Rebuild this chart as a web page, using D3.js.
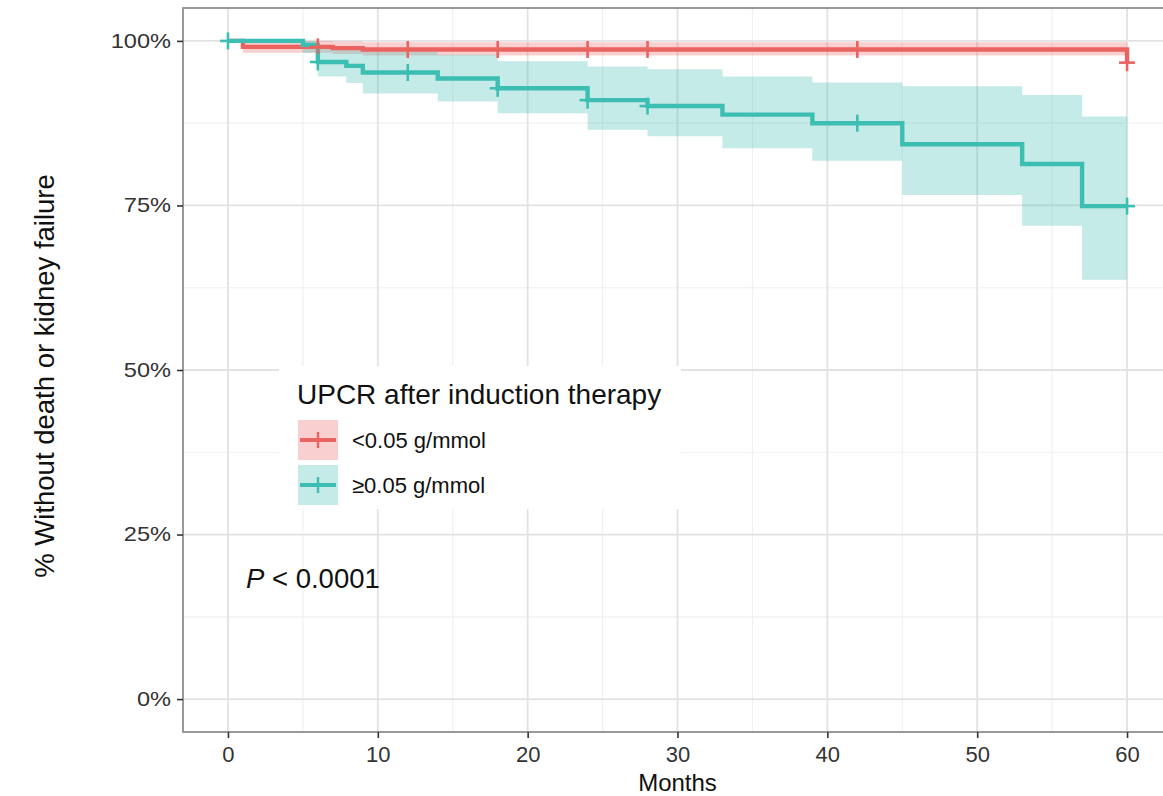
<!DOCTYPE html>
<html>
<head>
<meta charset="utf-8">
<script src="https://cdn.jsdelivr.net/npm/d3@7"></script>
<style>
  html, body { margin: 0; padding: 0; background: #fff; }
  svg { display: block; font-family: "Liberation Sans", Arial, sans-serif; }
</style>
</head>
<body>
<svg id="chart" width="1163" height="796"></svg>
<script>
// Kaplan–Meier estimates by UPCR group (time in months, survival as proportion)
const lowTimes   = [0, 1, 7, 9, 60];
const lowSurv    = [1.000, 0.991, 0.989, 0.987, 0.967];
const lowLower   = [1.000, 0.982, 0.980, 0.978, 0.967];
const lowUpper   = [1.000, 1.000, 0.999, 0.998, 0.967];
const lowCensor  = [6, 12, 18, 24, 28, 42, 60];

const highTimes  = [0, 5, 6, 7.9, 9, 14, 18, 24, 28, 33, 39, 45, 53, 57, 60];
const highSurv   = [1.000, 0.994, 0.968, 0.962, 0.952, 0.943, 0.928, 0.910, 0.901, 0.888, 0.875, 0.843, 0.813, 0.749, 0.749];
const highLower  = [1.000, 0.982, 0.946, 0.936, 0.920, 0.908, 0.890, 0.865, 0.855, 0.837, 0.818, 0.766, 0.719, 0.637, 0.637];
const highUpper  = [1.000, 1.000, 0.990, 0.988, 0.984, 0.979, 0.969, 0.961, 0.957, 0.946, 0.937, 0.931, 0.918, 0.885, 0.885];
const highCensor = [0, 6, 12, 18, 24, 28, 42, 60];

const groupLabels = ["<0.05 g/mmol", "\u22650.05 g/mmol"];
const groupColors = ["#EA6360", "#3DBEB2"];
const xTicks = [0, 10, 20, 30, 40, 50, 60];
const yTicks = [0, 0.25, 0.5, 0.75, 1];
const xMinor = [5, 15, 25, 35, 45, 55];
const yMinor = [0.125, 0.375, 0.625, 0.875];

const svg = d3.select("#chart");
const W = 1163, H = 796;
const panel = { left: 183, right: 1172, top: 8, bottom: 732 };

const x = d3.scaleLinear().domain([-3, 63]).range([panel.left, panel.right]);
const y = d3.scaleLinear().domain([-0.05, 1.05]).range([panel.bottom, panel.top]);

svg.append("rect").attr("width", W).attr("height", H).attr("fill", "#fff");

svg.append("defs").append("clipPath").attr("id", "panelClip")
  .append("rect")
  .attr("x", panel.left).attr("y", panel.top)
  .attr("width", panel.right - panel.left).attr("height", panel.bottom - panel.top);

const grid = svg.append("g").attr("clip-path", "url(#panelClip)");
// minor grid
grid.selectAll(".xminor").data(xMinor).join("line")
  .attr("x1", d => x(d)).attr("x2", d => x(d))
  .attr("y1", panel.top).attr("y2", panel.bottom)
  .attr("stroke", "#f0f0f0").attr("stroke-width", 1.2);
grid.selectAll(".yminor").data(yMinor).join("line")
  .attr("x1", panel.left).attr("x2", panel.right)
  .attr("y1", d => y(d)).attr("y2", d => y(d))
  .attr("stroke", "#f0f0f0").attr("stroke-width", 1.2);
// major grid
grid.selectAll(".xmajor").data(xTicks).join("line")
  .attr("x1", d => x(d)).attr("x2", d => x(d))
  .attr("y1", panel.top).attr("y2", panel.bottom)
  .attr("stroke", "#e2e2e2").attr("stroke-width", 1.8);
grid.selectAll(".ymajor").data(yTicks).join("line")
  .attr("x1", panel.left).attr("x2", panel.right)
  .attr("y1", d => y(d)).attr("y2", d => y(d))
  .attr("stroke", "#e2e2e2").attr("stroke-width", 1.8);

const plot = svg.append("g").attr("clip-path", "url(#panelClip)");

function series(times, vals) { return times.map((t, i) => ({ t, v: vals[i] })); }
function bandData(times, lo, hi) { return times.map((t, i) => ({ t, lo: lo[i], hi: hi[i] })); }
function stepValue(times, vals, t) {
  let v = vals[0];
  for (let i = 0; i < times.length; i++) if (times[i] <= t) v = vals[i];
  return v;
}

const area = d3.area().curve(d3.curveStepAfter)
  .x(d => x(d.t)).y0(d => y(d.lo)).y1(d => y(d.hi));
const line = d3.line().curve(d3.curveStepAfter)
  .x(d => x(d.t)).y(d => y(d.v));

const groups = [
  { times: lowTimes, surv: lowSurv, lo: lowLower, hi: lowUpper, censor: lowCensor, color: groupColors[0] },
  { times: highTimes, surv: highSurv, lo: highLower, hi: highUpper, censor: highCensor, color: groupColors[1] }
];

// confidence bands
groups.forEach(g => {
  plot.append("path")
    .datum(bandData(g.times, g.lo, g.hi))
    .attr("d", area)
    .attr("fill", g.color).attr("fill-opacity", 0.3).attr("stroke", "none");
});

// survival curves
groups.forEach(g => {
  plot.append("path")
    .datum(series(g.times, g.surv))
    .attr("d", line)
    .attr("fill", "none").attr("stroke", g.color)
    .attr("stroke-width", 4.4).attr("stroke-linejoin", "miter");
});

// censoring marks
groups.forEach(g => {
  const marks = plot.append("g");
  g.censor.forEach(t => {
    const cx = x(t), cy = y(stepValue(g.times, g.surv, t));
    marks.append("line").attr("x1", cx - 8).attr("x2", cx + 8).attr("y1", cy).attr("y2", cy)
      .attr("stroke", g.color).attr("stroke-width", 2.6);
    marks.append("line").attr("x1", cx).attr("x2", cx).attr("y1", cy - 8.5).attr("y2", cy + 8.5)
      .attr("stroke", g.color).attr("stroke-width", 2.6);
  });
});

// panel border
svg.append("rect")
  .attr("x", panel.left).attr("y", panel.top)
  .attr("width", panel.right - panel.left).attr("height", panel.bottom - panel.top)
  .attr("fill", "none").attr("stroke", "#8e8e8e").attr("stroke-width", 1.8);

// axes
const yAxis = svg.append("g").attr("transform", `translate(${panel.left},0)`)
  .call(d3.axisLeft(y).tickValues(yTicks).tickFormat(d3.format(".0%")).tickSize(6).tickPadding(6));
yAxis.select(".domain").remove();
yAxis.selectAll(".tick line").attr("stroke", "#333").attr("stroke-width", 1.6);
yAxis.selectAll(".tick text")
  .attr("font-size", 20).attr("fill", "#333")
  .attr("font-family", "Liberation Sans, Arial, sans-serif")
  .attr("x", -12 / 1.18)
  .attr("transform", "scale(1.18,1)");

const xAxis = svg.append("g").attr("transform", `translate(0,${panel.bottom})`)
  .call(d3.axisBottom(x).tickValues(xTicks).tickSize(6).tickPadding(8));
xAxis.select(".domain").remove();
xAxis.selectAll(".tick line").attr("stroke", "#333").attr("stroke-width", 1.6);
xAxis.selectAll(".tick text")
  .attr("font-size", 22).attr("fill", "#333")
  .attr("font-family", "Liberation Sans, Arial, sans-serif");

// axis titles
svg.append("text")
  .attr("x", (panel.left + panel.right) / 2).attr("y", 791)
  .attr("text-anchor", "middle").attr("font-size", 24).attr("fill", "#111")
  .text("Months");
svg.append("text")
  .attr("transform", `translate(54,${(panel.top + panel.bottom) / 2 + 6}) rotate(-90)`)
  .attr("text-anchor", "middle").attr("font-size", 27.5).attr("fill", "#111")
  .text("% Without death or kidney failure");

// legend
const legend = svg.append("g");
legend.append("rect").attr("x", 279).attr("y", 366).attr("width", 402).attr("height", 143).attr("fill", "#fff");
legend.append("text").attr("x", 297).attr("y", 404)
  .attr("font-size", 28).attr("fill", "#111").text("UPCR after induction therapy");
groups.forEach((g, i) => {
  const ky = 420 + i * 45;
  legend.append("rect").attr("x", 298).attr("y", ky).attr("width", 40).attr("height", 40)
    .attr("fill", g.color).attr("fill-opacity", 0.3);
  legend.append("line").attr("x1", 300).attr("x2", 336).attr("y1", ky + 20).attr("y2", ky + 20)
    .attr("stroke", g.color).attr("stroke-width", 4);
  legend.append("line").attr("x1", 318).attr("x2", 318).attr("y1", ky + 12).attr("y2", ky + 28)
    .attr("stroke", g.color).attr("stroke-width", 2.4);
  legend.append("text").attr("x", 352).attr("y", ky + 28)
    .attr("font-size", 22).attr("fill", "#111").text(groupLabels[i]);
});

// log-rank p-value
const pText = svg.append("text").attr("x", 246).attr("y", 588)
  .attr("font-size", 27.5).attr("fill", "#111");
pText.append("tspan").attr("font-style", "italic").text("P");
pText.append("tspan").text(" < 0.0001");
</script>
</body>
</html>
